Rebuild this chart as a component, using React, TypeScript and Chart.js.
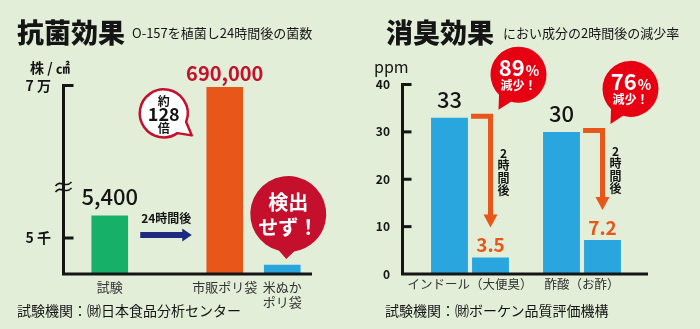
import React, { useEffect, useRef } from 'react';
import { Chart, registerables, LinearScale } from 'chart.js';

Chart.register(...registerables);

// ---------------- data ----------------
const leftCategories: any[] = ['試験', '', '市販ポリ袋', ['米ぬか', 'ポリ袋']];
const leftValues = [5400, null, 690000, 0];
const leftValueLabels = ['5,400', '', '690,000', ''];
const leftTickValues = [5000, 700000];
const leftTickLabels = ['5 千', '7 万'];
const leftRatioText = ['約', '128', '倍'];
const leftNotDetectedText = ['検出', 'せず！'];
const leftStepText = '24時間後';

const rightCategories = ['インドール（大便臭）', '酢酸（お酢）'];
const rightBefore = [33, 30];
const rightAfter = [3.5, 7.2];
const rightBeforeLabels = ['33', '30'];
const rightAfterLabels = ['3.5', '7.2'];
const rightReduction = ['89', '76'];
const rightTickValues = [0, 10, 20, 30, 40];
const rightStepText = '2時間後';
const rightReductionWord = '減少！';

const leftTitle = '抗菌効果';
const leftSubtitle = 'O-157を植菌し24時間後の菌数';
const leftUnit = '株 / ㎠';
const leftSource = '試験機関：㈶日本食品分析センター';
const rightTitle = '消臭効果';
const rightSubtitle = 'におい成分の2時間後の減少率';
const rightUnit = 'ppm';
const rightSource = '試験機関：㈶ボーケン品質評価機構';

// ---------------- styles ----------------
const FONT = '"Noto Sans CJK JP", "Noto Sans", sans-serif';
const INK = '#151515';
const BG = '#e2eed8';
const GREEN = '#16b068';
const ORANGE = '#e8561a';
const BLUE = '#29a6de';
const NAVY = '#1e2a80';
const CRIMSON = '#c4102c';
const RED = '#e60012';
const leftColors = [GREEN, 'rgba(0,0,0,0)', ORANGE, BLUE];

// broken (piecewise) value axis for the left chart
const BREAK_VALUES = [0, 5000, 5400, 700000];
const BREAK_FRACS = [0, 0.191, 0.308, 1];
const BREAK_MARK_FRAC = 0.4615;

function valueToFrac(v: number) {
  if (v <= BREAK_VALUES[0]) return BREAK_FRACS[0];
  for (let i = 1; i < BREAK_VALUES.length; i++) {
    if (v <= BREAK_VALUES[i]) {
      const t = (v - BREAK_VALUES[i - 1]) / (BREAK_VALUES[i] - BREAK_VALUES[i - 1]);
      return BREAK_FRACS[i - 1] + t * (BREAK_FRACS[i] - BREAK_FRACS[i - 1]);
    }
  }
  return 1;
}
function fracToValue(f: number) {
  if (f <= BREAK_FRACS[0]) return BREAK_VALUES[0];
  for (let i = 1; i < BREAK_FRACS.length; i++) {
    if (f <= BREAK_FRACS[i]) {
      const t = (f - BREAK_FRACS[i - 1]) / (BREAK_FRACS[i] - BREAK_FRACS[i - 1]);
      return BREAK_VALUES[i - 1] + t * (BREAK_VALUES[i] - BREAK_VALUES[i - 1]);
    }
  }
  return BREAK_VALUES[BREAK_VALUES.length - 1];
}

class BrokenLinearScale extends (LinearScale as any) {
  static id = 'brokenLinear';
  getPixelForValue(value: any) {
    if (value === null || value === undefined || isNaN(value)) return NaN;
    return (this as any).getPixelForDecimal(valueToFrac(+value));
  }
  getValueForPixel(pixel: number) {
    return fracToValue((this as any).getDecimalForPixel(pixel));
  }
}
Chart.register(BrokenLinearScale as any);

Chart.defaults.font.family = FONT;
Chart.defaults.color = INK;

// ---------------- helpers ----------------
function bubble(ctx: CanvasRenderingContext2D, cx: number, cy: number, r: number, tx: number, ty: number, spread: number, fill: string, stroke?: string, lw = 0) {
  const ang = Math.atan2(ty - cy, tx - cx);
  ctx.beginPath();
  ctx.arc(cx, cy, r, ang + spread, ang - spread + Math.PI * 2);
  ctx.lineTo(tx, ty);
  ctx.closePath();
  ctx.fillStyle = fill;
  ctx.fill();
  if (stroke && lw > 0) {
    ctx.strokeStyle = stroke;
    ctx.lineWidth = lw;
    ctx.lineJoin = 'round';
    ctx.stroke();
  }
}

function text(ctx: CanvasRenderingContext2D, s: string, x: number, y: number, font: string, color: string) {
  ctx.font = font;
  ctx.fillStyle = color;
  ctx.textAlign = 'center';
  ctx.textBaseline = 'middle';
  ctx.fillText(s, x, y);
}

// ---------------- plugins ----------------
const leftDecor = {
  id: 'leftDecor',
  afterDatasetsDraw(chart: any) {
    const { ctx, chartArea: ca, scales } = chart;
    const x = scales.x, y = scales.y;
    const bars = chart.getDatasetMeta(0).data;
    const ax = ca.left - 17.5;
    const base = ca.bottom;
    const topPx = y.getPixelForValue(leftTickValues[leftTickValues.length - 1]);
    ctx.save();
    // axes
    ctx.strokeStyle = INK;
    ctx.lineWidth = 3;
    ctx.lineJoin = 'miter';
    ctx.lineCap = 'butt';
    ctx.beginPath();
    ctx.moveTo(ax + 10, topPx);
    ctx.lineTo(ax, topPx);
    ctx.lineTo(ax, base);
    ctx.lineTo(ca.right + 1, base);
    ctx.stroke();
    leftTickValues.slice(0, -1).forEach((v) => {
      const py = y.getPixelForValue(v);
      ctx.beginPath();
      ctx.moveTo(ax, py);
      ctx.lineTo(ax + 10, py);
      ctx.stroke();
    });
    // break mark
    const by = y.getPixelForDecimal(BREAK_MARK_FRAC);
    ctx.lineWidth = 1.6;
    for (const dy of [-3, 3]) {
      const yy = by + dy;
      ctx.beginPath();
      ctx.moveTo(ax - 8, yy + 2);
      ctx.bezierCurveTo(ax - 3, yy - 5, ax + 2, yy + 5, ax + 8, yy - 2);
      ctx.stroke();
    }
    // value labels
    const maxV = Math.max(...leftValues.map((v) => (v == null ? 0 : v)));
    bars.forEach((b: any, i: number) => {
      const s = leftValueLabels[i];
      if (!s) return;
      if (leftValues[i] === maxV) text(ctx, s, b.x, b.y - 14, `bold 20px ${FONT}`, CRIMSON);
      else text(ctx, s, b.x, b.y - 19, `500 22px ${FONT}`, INK);
    });
    // step arrow between categories
    const cx = x.getPixelForValue(1);
    const ay = ca.bottom - 39;
    ctx.fillStyle = NAVY;
    ctx.fillRect(cx - 27, ay - 3, 43, 6);
    ctx.beginPath();
    ctx.moveTo(cx + 15, ay - 6.5);
    ctx.lineTo(cx + 24.5, ay);
    ctx.lineTo(cx + 15, ay + 6.5);
    ctx.closePath();
    ctx.fill();
    text(ctx, leftStepText, cx - 1, ay - 17, `bold 12px ${FONT}`, INK);
    // ratio bubble
    const b2 = bars[2];
    const rcx = b2.x - 61, rcy = b2.y + 26;
    bubble(ctx, rcx, rcy, 24, rcx + 28, rcy + 22, 0.3, '#ffffff', CRIMSON, 2.5);
    text(ctx, leftRatioText[0], rcx, rcy - 12, `bold 12px ${FONT}`, INK);
    text(ctx, leftRatioText[1], rcx, rcy + 1, `bold 18px ${FONT}`, INK);
    text(ctx, leftRatioText[2], rcx, rcy + 15, `bold 12px ${FONT}`, INK);
    // not detected bubble
    const b3 = bars[3];
    const ncx = b3.x + 6, ncy = b3.y - 51;
    bubble(ctx, ncx, ncy, 38, ncx - 2, b3.y - 6, 0.2, CRIMSON);
    text(ctx, leftNotDetectedText[0], ncx, ncy - 12, `bold 20px ${FONT}`, '#ffffff');
    text(ctx, leftNotDetectedText[1], ncx, ncy + 13, `bold 20px ${FONT}`, '#ffffff');
    ctx.restore();
  },
};

const rightDecor = {
  id: 'rightDecor',
  afterDatasetsDraw(chart: any) {
    const { ctx, chartArea: ca, scales } = chart;
    const y = scales.y;
    const before = chart.getDatasetMeta(0).data;
    const after = chart.getDatasetMeta(1).data;
    const ax = ca.left - 11.5;
    const base = ca.bottom;
    const topPx = y.getPixelForValue(rightTickValues[rightTickValues.length - 1]);
    ctx.save();
    ctx.strokeStyle = INK;
    ctx.lineWidth = 3;
    ctx.lineJoin = 'miter';
    ctx.lineCap = 'butt';
    ctx.beginPath();
    ctx.moveTo(ax + 9, topPx);
    ctx.lineTo(ax, topPx);
    ctx.lineTo(ax, base);
    ctx.lineTo(ca.right + 10, base);
    ctx.stroke();
    rightTickValues.slice(1, -1).forEach((v) => {
      const py = y.getPixelForValue(v);
      ctx.beginPath();
      ctx.moveTo(ax, py);
      ctx.lineTo(ax + 9, py);
      ctx.stroke();
    });
    before.forEach((b: any, i: number) => {
      text(ctx, rightBeforeLabels[i], b.x, b.y - 18, `500 22px ${FONT}`, INK);
    });
    after.forEach((a: any, i: number) => {
      text(ctx, rightAfterLabels[i], a.x, a.y - 12.5, `bold 19px ${FONT}`, ORANGE);
    });
    // arrows
    before.forEach((b: any, i: number) => {
      const a = after[i];
      const sx = a.x - a.width / 2 - 1;
      const hy = b.y - 1.5;
      const vx = a.x;
      const tipY = a.y - 30;
      ctx.strokeStyle = ORANGE;
      ctx.fillStyle = ORANGE;
      ctx.lineWidth = 5;
      ctx.lineJoin = 'miter';
      ctx.beginPath();
      ctx.moveTo(sx, hy);
      ctx.lineTo(vx, hy);
      ctx.lineTo(vx, tipY - 12);
      ctx.stroke();
      ctx.beginPath();
      ctx.moveTo(vx - 7, tipY - 13);
      ctx.lineTo(vx + 7, tipY - 13);
      ctx.lineTo(vx, tipY);
      ctx.closePath();
      ctx.fill();
      const chars = Array.from(rightStepText);
      const mid = (hy + tipY) / 2;
      const step = 12.5;
      chars.forEach((c, k) => {
        text(ctx, c, vx + 13, mid + (k - (chars.length - 1) / 2) * step, `bold 12px ${FONT}`, INK);
      });
      // reduction bubble
      const cx = a.x + 28, cy = b.y - 43;
      bubble(ctx, cx, cy, 28, cx - 20, cy + 35, 0.25, RED);
      ctx.font = `bold 22px ${FONT}`;
      const w1 = ctx.measureText(rightReduction[i]).width;
      ctx.font = `bold 14px ${FONT}`;
      const w2 = ctx.measureText('%').width;
      const sx2 = cx - (w1 + w2) / 2;
      ctx.fillStyle = '#ffffff';
      ctx.textAlign = 'left';
      ctx.textBaseline = 'alphabetic';
      ctx.font = `bold 22px ${FONT}`;
      ctx.fillText(rightReduction[i], sx2, cy + 1);
      ctx.font = `bold 14px ${FONT}`;
      ctx.fillText('%', sx2 + w1 + 1, cy + 1);
      text(ctx, rightReductionWord, cx, cy + 10.5, `bold 12px ${FONT}`, '#ffffff');
    });
    ctx.restore();
  },
};

// ---------------- configs ----------------
function leftConfig(): any {
  return {
    type: 'bar',
    data: {
      labels: leftCategories,
      datasets: [
        {
          data: leftValues,
          backgroundColor: leftColors,
          barThickness: 36,
          minBarLength: 9,
          borderWidth: 0,
        },
      ],
    },
    options: {
      responsive: false,
      animation: false,
      events: [],
      layout: { padding: { left: 0, right: 39, top: 85.5, bottom: 0 } },
      plugins: { legend: { display: false }, tooltip: { enabled: false } },
      scales: {
        x: {
          type: 'category',
          grid: { display: false, drawTicks: false },
          border: { display: false },
          ticks: { padding: 5, color: '#333', font: { size: 13 }, maxRotation: 0, autoSkip: false },
          afterFit: (s: any) => { s.height = 55; },
        },
        y: {
          type: 'brokenLinear',
          min: 0,
          max: 700000,
          grid: { display: false, drawTicks: false },
          border: { display: false },
          ticks: {
            padding: 30,
            color: INK,
            font: { size: 14, weight: 'bold' },
            callback: (v: any) => {
              const k = leftTickValues.indexOf(v);
              return k >= 0 ? leftTickLabels[k] : '';
            },
          },
          afterBuildTicks: (s: any) => { s.ticks = leftTickValues.map((v) => ({ value: v })); },
          afterFit: (s: any) => { s.width = 81; },
        },
      },
    },
    plugins: [leftDecor],
  };
}

function rightConfig(): any {
  const common = { backgroundColor: BLUE, categoryPercentage: 0.732, barPercentage: 0.9, borderWidth: 0 };
  return {
    type: 'bar',
    data: {
      labels: rightCategories,
      datasets: [
        { data: rightBefore, ...common },
        { data: rightAfter, ...common },
      ],
    },
    options: {
      responsive: false,
      animation: false,
      events: [],
      layout: { padding: { left: 0, right: 62, top: 84.5, bottom: 0 } },
      plugins: { legend: { display: false }, tooltip: { enabled: false } },
      scales: {
        x: {
          grid: { display: false, drawTicks: false },
          border: { display: false },
          ticks: { padding: 3, color: '#333', font: { size: 12.5 }, maxRotation: 0, autoSkip: false },
          afterFit: (s: any) => { s.height = 55; },
        },
        y: {
          min: rightTickValues[0],
          max: rightTickValues[rightTickValues.length - 1],
          grid: { display: false, drawTicks: false },
          border: { display: false },
          ticks: { stepSize: 10, padding: 24, color: INK, font: { size: 12, weight: 'bold' } },
          afterBuildTicks: (s: any) => { s.ticks = rightTickValues.map((v) => ({ value: v })); },
          afterFit: (s: any) => { s.width = 64; },
        },
      },
    },
    plugins: [rightDecor],
  };
}

// ---------------- component ----------------
function Label({ x, cy, size, weight, children, color }: any) {
  return (
    <div
      style={{
        position: 'absolute',
        left: x,
        top: cy - size * 0.56,
        fontSize: size,
        lineHeight: `${size}px`,
        fontWeight: weight || 400,
        color: color || INK,
        whiteSpace: 'nowrap',
        fontFamily: FONT,
      }}
    >
      {children}
    </div>
  );
}

export default function App() {
  const leftRef = useRef<HTMLCanvasElement>(null);
  const rightRef = useRef<HTMLCanvasElement>(null);

  useEffect(() => {
    const c1 = new Chart(leftRef.current as HTMLCanvasElement, leftConfig());
    const c2 = new Chart(rightRef.current as HTMLCanvasElement, rightConfig());
    return () => {
      c1.destroy();
      c2.destroy();
    };
  }, []);

  return (
    <div
      style={{
        position: 'fixed',
        left: 0,
        top: 0,
        width: 700,
        height: 329,
        background: BG,
        overflow: 'hidden',
        fontFamily: FONT,
      }}
    >
      <canvas ref={leftRef} width={350} height={329} style={{ position: 'absolute', left: 0, top: 0, width: 350, height: 329 }} />
      <canvas ref={rightRef} width={350} height={329} style={{ position: 'absolute', left: 350, top: 0, width: 350, height: 329 }} />
      <Label x={17} cy={33} size={27} weight={900}>{leftTitle}</Label>
      <Label x={132} cy={33} size={13}>{leftSubtitle}</Label>
      <Label x={30} cy={68} size={14} weight={700}>{leftUnit}</Label>
      <Label x={17} cy={311} size={14}>{leftSource}</Label>
      <Label x={386} cy={33} size={27} weight={900}>{rightTitle}</Label>
      <Label x={503} cy={33} size={13}>{rightSubtitle}</Label>
      <Label x={374} cy={67} size={16}>{rightUnit}</Label>
      <Label x={385} cy={311} size={14}>{rightSource}</Label>
    </div>
  );
}
